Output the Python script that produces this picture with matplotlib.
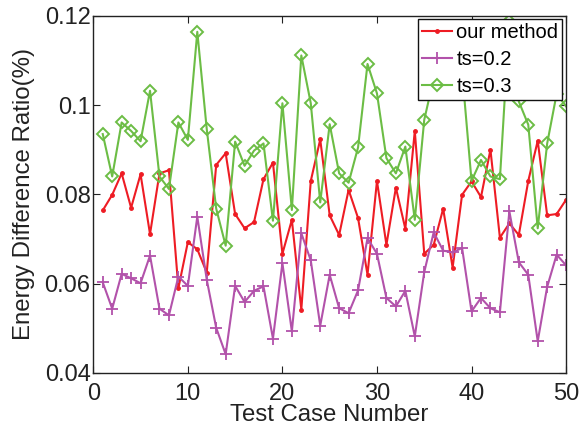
import matplotlib
matplotlib.use("Agg")
import matplotlib.pyplot as plt
from matplotlib.ticker import FuncFormatter

plt.rcParams['font.family'] = ['Liberation Sans', 'DejaVu Sans']

cases = list(range(1, 51))

our_method = [0.0764, 0.0799, 0.0847, 0.0770, 0.0845, 0.0711, 0.0847, 0.0854, 0.0590, 0.0693,
              0.0677, 0.0625, 0.0866, 0.0892, 0.0756, 0.0724, 0.0738, 0.0834, 0.0871, 0.0667,
              0.0743, 0.0542, 0.0830, 0.0923, 0.0753, 0.0709, 0.0810, 0.0747, 0.0620, 0.0830,
              0.0687, 0.0815, 0.0723, 0.0942, 0.0667, 0.0687, 0.0768, 0.0636, 0.0799, 0.0829,
              0.0794, 0.0900, 0.0703, 0.0735, 0.0709, 0.0830, 0.0920, 0.0753, 0.0756, 0.0788]

ts_02 = [0.0603, 0.0544, 0.0622, 0.0612, 0.0601, 0.0663, 0.0544, 0.0529, 0.0616, 0.0595,
         0.0750, 0.0609, 0.0501, 0.0442, 0.0595, 0.0559, 0.0584, 0.0594, 0.0477, 0.0646,
         0.0493, 0.0713, 0.0652, 0.0506, 0.0620, 0.0545, 0.0534, 0.0585, 0.0702, 0.0667,
         0.0568, 0.0549, 0.0584, 0.0482, 0.0626, 0.0715, 0.0674, 0.0670, 0.0680, 0.0538,
         0.0568, 0.0545, 0.0536, 0.0762, 0.0648, 0.0620, 0.0471, 0.0593, 0.0665, 0.0641]

ts_03 = [0.0935, 0.0840, 0.0961, 0.0942, 0.0919, 0.1032, 0.0840, 0.0812, 0.0961, 0.0922,
         0.1164, 0.0946, 0.0768, 0.0685, 0.0918, 0.0864, 0.0898, 0.0914, 0.0741, 0.1004,
         0.0765, 0.1111, 0.1004, 0.0782, 0.0957, 0.0847, 0.0826, 0.0905, 0.1092, 0.1026,
         0.0881, 0.0847, 0.0907, 0.0743, 0.0967, 0.1060, 0.1120, 0.1040, 0.1075, 0.0830,
         0.0877, 0.0840, 0.0834, 0.1188, 0.1008, 0.0956, 0.0724, 0.0914, 0.1025, 0.0997]

x_ticks = [0, 10, 20, 30, 40, 50]
y_ticks = [0.04, 0.06, 0.08, 0.10, 0.12]

fig = plt.figure(figsize=(5.83, 4.32), dpi=100)
ax = fig.add_axes([0.160, 0.1366, 0.811, 0.827])

ax.plot(cases, our_method, color='#ee1c24', lw=1.5, marker='.', ms=5, label='our method')
ax.plot(cases, ts_02, color='#b252aa', lw=1.5, marker='+', ms=8, mew=1.3, label='ts=0.2')
ax.plot(cases, ts_03, color='#6cbd45', lw=1.5, marker='D', ms=6, mfc='none', mew=1.4,
        label='ts=0.3')

ax.set_xlim(0, 50)
ax.set_ylim(0.04, 0.12)
ax.set_xticks(x_ticks)
ax.set_yticks(y_ticks)
ax.yaxis.set_major_formatter(FuncFormatter(lambda v, p: f"{v:g}"))
ax.tick_params(direction='in', top=True, right=True, length=5, width=0.8,
               labelsize=17, colors='#222222')
ax.tick_params(axis='x', pad=7.5)
ax.tick_params(axis='y', pad=2)
for s in ax.spines.values():
    s.set_linewidth(1.0)
    s.set_color('#222222')

ax.set_xlabel('Test Case Number', fontsize=17.3, color='#222222', labelpad=-1)
ax.set_ylabel('Energy Difference Ratio(%)', fontsize=17.3, color='#222222', labelpad=7)

leg = ax.legend(loc='upper right', fontsize=14.5, frameon=True, fancybox=False,
                edgecolor='#111111', borderpad=0.2, labelspacing=0.38, handlelength=1.5,
                handletextpad=0.2, borderaxespad=0.18)
leg.get_frame().set_linewidth(1.0)
leg.get_frame().set_alpha(1.0)

fig.savefig('out.png', dpi=100)
